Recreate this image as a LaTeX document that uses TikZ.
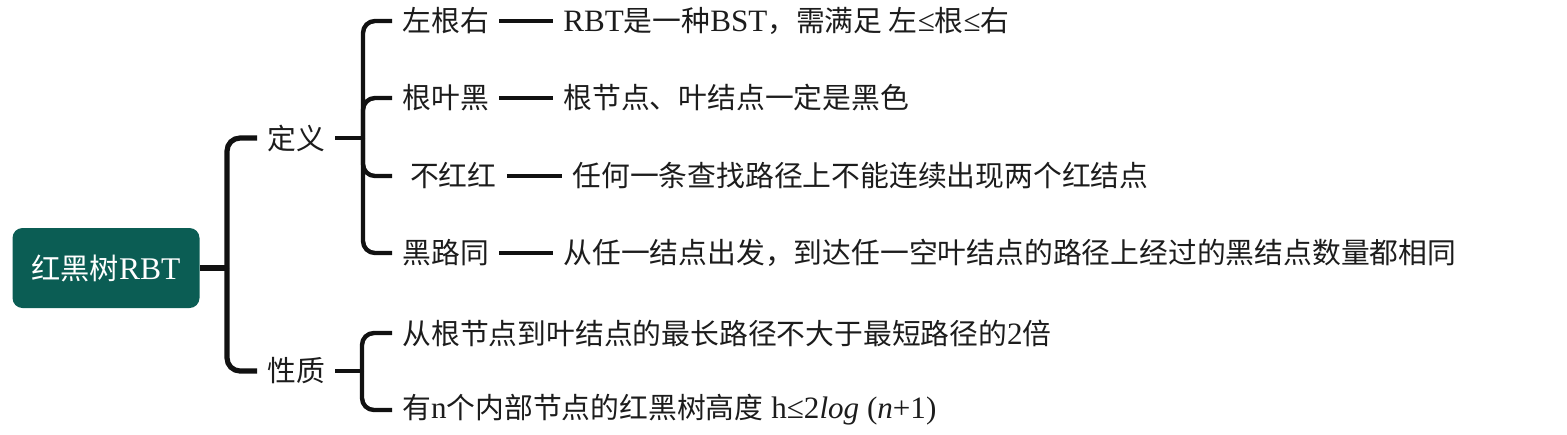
\documentclass[tikz,border=0pt]{standalone}
\usepackage{fontspec}
\setmainfont{Liberation Serif}[Scale=1.08]
\newfontfamily\cjk{Noto Sans CJK SC}
\definecolor{teal}{HTML}{0B5D54}
\definecolor{txt}{HTML}{1C1C1C}
\definecolor{linec}{HTML}{111111}
\begin{document}
\begin{tikzpicture}[x=0.5pt,y=-0.5pt,
  conn/.style={line width=2.2pt, draw=linec, rounded corners=6pt},
  trunk/.style={line width=2.6pt, draw=linec, rounded corners=6.5pt},
  lbl/.style={anchor=west, inner xsep=5pt, inner ysep=0pt, text=txt, font=\fontsize{14.4}{17}\selectfont},
  rootbox/.style={fill=teal, rounded corners=5pt, minimum width=93.5pt, minimum height=40pt, text=white, font=\fontsize{14.6}{17}\selectfont, inner sep=0pt}]
\useasboundingbox (0,0) rectangle (1567,434);
% root
\node[rootbox] (root) at (106,268) {{\cjk 红黑树}RBT};
% level 1
\node[lbl] (def) at (257,138) {\cjk 定义};
\node[lbl] (prop) at (257,371) {\cjk 性质};
\coordinate (tA) at (227,268);
\draw[trunk] (root.east) -- (tA);
\draw[trunk] (tA) |- (def.west);
\draw[trunk] (tA) |- (prop.west);
% definition branch
\coordinate (tB) at (363,138);
\node[lbl] (k1) at (392,21) {\cjk 左根右};
\node[lbl] (k2) at (392,98) {\cjk 根叶黑};
\node[lbl] (k3) at (392,176) {\ {\cjk 不红红}};
\node[lbl] (k4) at (392,253) {\cjk 黑路同};
\node[lbl] (d1) at (553,21) {RBT{\cjk 是一种}BST{\cjk ，需满足 左}≤{\cjk 根}≤{\cjk 右}};
\node[lbl] (d2) at (553,98) {\cjk 根节点、叶结点一定是黑色};
\node[lbl] (d3) at (562,176) {\cjk 任何一条查找路径上不能连续出现两个红结点};
\node[lbl] (d4) at (553,253) {\cjk 从任一结点出发，到达任一空叶结点的路径上经过的黑结点数量都相同};
\draw[conn] (def.east) -- (tB);
\foreach \k in {k1,k2,k3,k4} \draw[conn] (tB) |- (\k.west);
\draw[conn] (k1.east) -- (d1.west);
\draw[conn] (k2.east) -- (d2.west);
\draw[conn] (k3.east) -- (d3.west);
\draw[conn] (k4.east) -- (d4.west);
% property branch
\coordinate (tC) at (362,371);
\node[lbl] (p1) at (392,333) {{\cjk 从根节点到叶结点的最长路径不大于最短路径的}2{\cjk 倍}};
\node[lbl] (p2) at (392,410) {{\cjk 有}n{\cjk 个内部节点的红黑树高度} h≤2\textit{log} (\textit{n}+1)};
\draw[conn] (prop.east) -- (tC);
\draw[conn] (tC) |- (p1.west);
\draw[conn] (tC) |- (p2.west);
\end{tikzpicture}
\end{document}
